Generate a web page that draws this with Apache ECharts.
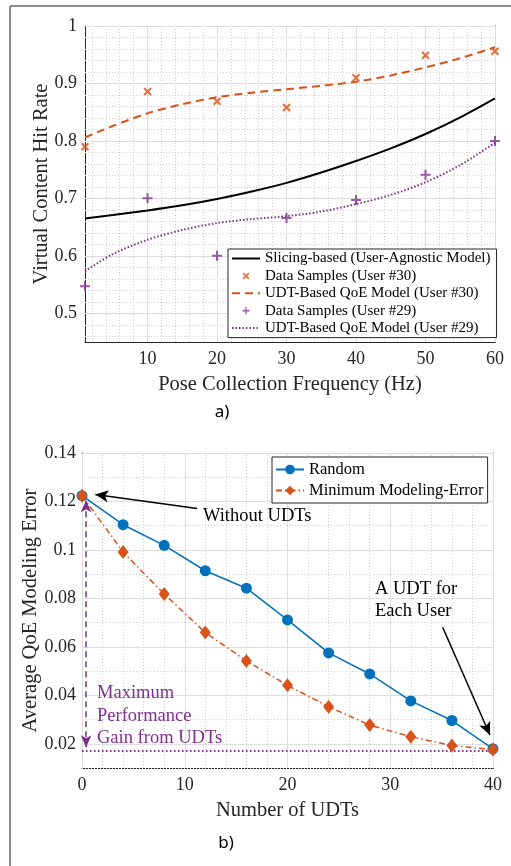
<!DOCTYPE html>
<html>
<head>
<meta charset="utf-8">
<script src="https://cdn.jsdelivr.net/npm/echarts@6/dist/echarts.min.js"></script>
<style>
html, body { margin: 0; padding: 0; background: #fff; }
#chart { width: 511px; height: 866px; }
</style>
</head>
<body>
<div id="chart"></div>
<script>
// a) hit rate vs pose collection frequency
const freqSamples = [1, 10, 20, 30, 40, 50, 60];
const user30Samples = [0.790, 0.886, 0.869, 0.858, 0.910, 0.949, 0.956];
const user29Samples = [0.547, 0.700, 0.600, 0.666, 0.697, 0.741, 0.800];
const freqCurve = [1, 5, 10, 15, 20, 25, 30, 35, 40, 45, 50, 55, 60];
const slicingCurve = [0.665, 0.671, 0.679, 0.688, 0.699, 0.712, 0.727, 0.745, 0.765, 0.787, 0.812, 0.841, 0.874];
const user30Curve = [0.806, 0.826, 0.848, 0.864, 0.876, 0.884, 0.890, 0.896, 0.903, 0.914, 0.928, 0.944, 0.963];
const user29Curve = [0.573, 0.603, 0.628, 0.645, 0.657, 0.664, 0.669, 0.677, 0.690, 0.706, 0.728, 0.758, 0.797];
const freqTicks = [10, 20, 30, 40, 50, 60];
const hitTicks = [0.5, 0.6, 0.7, 0.8, 0.9, 1];

// b) modeling error vs number of UDTs
const udtCounts = [0, 4, 8, 12, 16, 20, 24, 28, 32, 36, 40];
const randomErr = [0.1224, 0.1104, 0.1019, 0.0914, 0.0842, 0.0711, 0.0575, 0.0488, 0.0377, 0.0296, 0.0179];
const minErr = [0.1224, 0.0991, 0.0818, 0.0659, 0.0542, 0.0441, 0.0353, 0.0277, 0.0229, 0.0193, 0.0176];
const udtTicks = [0, 10, 20, 30, 40];
const errTicks = [0.02, 0.04, 0.06, 0.08, 0.1, 0.12, 0.14];
const bestErr = 0.0172;

const SERIF = '"Liberation Serif", "Times New Roman", serif';
const AX = '#262626';
const BLUE = '#0072BD', ORANGE = '#D95319', PURPLE = '#7E2F8E';

const pairs = (xs, ys) => xs.map((x, i) => [x, ys[i]]);

// minor grid positions between the major ones
function steps(from, to, step, major) {
    const out = [];
    for (let v = from; v <= to + 1e-9; v += step) {
        const r = Math.round(v * 10000) / 10000;
        if (!major.some(m => Math.abs(m - r) < 1e-9)) out.push(r);
    }
    return out;
}

function gridLines(xMajor, xMinor, yMajor, yMinor) {
    const major = { color: '#dedede', width: 1, type: 'solid' };
    const minor = { color: '#cfcfcf', width: 1, type: [1, 2] };
    return [].concat(
        xMinor.map(v => ({ xAxis: v, lineStyle: minor })),
        yMinor.map(v => ({ yAxis: v, lineStyle: minor })),
        xMajor.map(v => ({ xAxis: v, lineStyle: major })),
        yMajor.map(v => ({ yAxis: v, lineStyle: major }))
    );
}

const xPlus = 'path://M0,1.8L1.8,0L5,3.2L8.2,0L10,1.8L6.8,5L10,8.2L8.2,10L5,6.8L1.8,10L0,8.2L3.2,5Z';
const plus = 'path://M4,0H6V4H10V6H6V10H4V6H0V4H4Z';

const tickFont = { fontFamily: SERIF, fontSize: 18, color: AX };
const nameFont = { fontFamily: SERIF, fontSize: 20.5, color: AX };
const axLine = { show: true, onZero: false, lineStyle: { color: AX, width: 1 } };

function mainX(grid, min, max, ticks, name) {
    return {
        gridIndex: grid, type: 'value', min: min, max: max,
        name: name, nameLocation: 'middle', nameGap: 32, nameTextStyle: nameFont, nameMoveOverlap: false,
        axisLine: axLine,
        axisTick: { show: true, inside: true, length: 5, customValues: ticks, lineStyle: { color: AX } },
        axisLabel: { customValues: ticks, margin: 8, ...tickFont },
        splitLine: { show: false }
    };
}
function sideX(grid, min, max, ticks) {
    return {
        gridIndex: grid, type: 'value', min: min, max: max, position: 'top',
        axisLine: axLine,
        axisTick: { show: true, inside: true, length: 5, customValues: ticks, lineStyle: { color: AX } },
        axisLabel: { show: false }, splitLine: { show: false }
    };
}
function mainY(grid, min, max, ticks, name, gap, margin) {
    return {
        gridIndex: grid, type: 'value', min: min, max: max,
        name: name, nameLocation: 'middle', nameGap: gap, nameTextStyle: nameFont, nameMoveOverlap: false,
        axisLine: axLine,
        axisTick: { show: true, inside: true, length: 5, customValues: ticks, lineStyle: { color: AX } },
        axisLabel: { customValues: ticks, margin: margin, ...tickFont },
        splitLine: { show: false }
    };
}
function sideY(grid, min, max, ticks) {
    return {
        gridIndex: grid, type: 'value', min: min, max: max, position: 'right',
        axisLine: axLine,
        axisTick: { show: true, inside: true, length: 5, customValues: ticks, lineStyle: { color: AX } },
        axisLabel: { show: false }, splitLine: { show: false }
    };
}

const noDot = { opacity: 0 };

const chart = echarts.init(document.getElementById('chart'));

const option = {
    backgroundColor: '#fff',
    animation: false,
    grid: [
        { left: 85, right: 16, top: 26, height: 316 },
        { left: 82, right: 18, top: 453, height: 315 }
    ],
    xAxis: [
        mainX(0, 1, 60, freqTicks, 'Pose Collection Frequency (Hz)'),
        sideX(0, 1, 60, freqTicks),
        mainX(1, 0, 40, udtTicks, 'Number of UDTs'),
        sideX(1, 0, 40, udtTicks)
    ],
    yAxis: [
        mainY(0, 0.45, 1, hitTicks, 'Virtual Content Hit Rate', 33, 8),
        sideY(0, 0.45, 1, hitTicks),
        mainY(1, 0.01, 0.14, errTicks, 'Average QoE Modeling Error', 41, 6),
        sideY(1, 0.01, 0.14, errTicks)
    ],
    legend: [
        {
            left: 228, top: 249, orient: 'vertical',
            backgroundColor: '#fff', borderColor: AX, borderWidth: 1,
            padding: [2, 6, 2, 3], itemWidth: 28, itemHeight: 7, itemGap: 2.4,
            textStyle: { fontFamily: SERIF, fontSize: 15, color: '#000' },
            data: [
                { name: 'Slicing-based (User-Agnostic Model)', itemStyle: noDot },
                'Data Samples (User #30)',
                { name: 'UDT-Based QoE Model (User #30)', itemStyle: noDot },
                'Data Samples (User #29)',
                { name: 'UDT-Based QoE Model (User #29)', itemStyle: noDot }
            ]
        },
        {
            left: 272, top: 457, orient: 'vertical',
            backgroundColor: '#fff', borderColor: AX, borderWidth: 1,
            padding: [4, 4, 4, 3], itemWidth: 28, itemHeight: 12, itemGap: 4,
            textStyle: { fontFamily: SERIF, fontSize: 16.5, color: '#000' },
            data: ['Random', 'Minimum Modeling-Error']
        }
    ],
    graphic: [
        { type: 'line', shape: { x1: 10, y1: 6, x2: 511, y2: 6 }, style: { stroke: '#8c8c8c', lineWidth: 2 } },
        { type: 'line', shape: { x1: 10, y1: 6, x2: 10, y2: 866 }, style: { stroke: '#8c8c8c', lineWidth: 2 } },
        { type: 'text', x: 222, y: 412, style: { text: 'a)', font: '17px "Noto Sans"', fill: '#000', align: 'center', verticalAlign: 'middle' } },
        { type: 'text', x: 226, y: 843, style: { text: 'b)', font: '17px "Noto Sans"', fill: '#000', align: 'center', verticalAlign: 'middle' } },
        { type: 'text', x: 203, y: 516, z: 10, style: { text: 'Without UDTs', font: '18.5px ' + SERIF, fill: '#000', verticalAlign: 'middle' } },
        { type: 'text', x: 375, y: 589, z: 10, style: { text: 'A UDT for', font: '18.5px ' + SERIF, fill: '#000', verticalAlign: 'middle' } },
        { type: 'text', x: 375, y: 611, z: 10, style: { text: 'Each User', font: '18.5px ' + SERIF, fill: '#000', verticalAlign: 'middle' } },
        { type: 'text', x: 97, y: 693, z: 10, style: { text: 'Maximum', font: '18.5px ' + SERIF, fill: PURPLE, verticalAlign: 'middle' } },
        { type: 'text', x: 97, y: 716, z: 10, style: { text: 'Performance', font: '18.5px ' + SERIF, fill: PURPLE, verticalAlign: 'middle' } },
        { type: 'text', x: 97, y: 738, z: 10, style: { text: 'Gain from UDTs', font: '18.5px ' + SERIF, fill: PURPLE, verticalAlign: 'middle' } }
    ],
    series: [
        // grid of plot a)
        {
            type: 'line', xAxisIndex: 0, yAxisIndex: 0, data: [], silent: true,
            markLine: {
                z: 1, silent: true, symbol: 'none', label: { show: false }, animation: false,
                data: gridLines(freqTicks, steps(2, 58, 2, freqTicks), hitTicks, steps(0.46, 0.98, 0.02, hitTicks))
            }
        },
        {
            name: 'Slicing-based (User-Agnostic Model)', type: 'line', xAxisIndex: 0, yAxisIndex: 0,
            data: pairs(freqCurve, slicingCurve), smooth: 0.3, symbol: 'none',
            lineStyle: { color: '#000', width: 2 }, itemStyle: { color: '#000' }
        },
        {
            name: 'Data Samples (User #30)', type: 'scatter', xAxisIndex: 0, yAxisIndex: 0,
            data: pairs(freqSamples, user30Samples), symbol: xPlus, symbolSize: 8.5,
            itemStyle: { color: ORANGE }
        },
        {
            name: 'UDT-Based QoE Model (User #30)', type: 'line', xAxisIndex: 0, yAxisIndex: 0,
            data: pairs(freqCurve, user30Curve), smooth: 0.3, symbol: 'none',
            lineStyle: { color: ORANGE, width: 2, type: [8, 5] }, itemStyle: { color: ORANGE }
        },
        {
            name: 'Data Samples (User #29)', type: 'scatter', xAxisIndex: 0, yAxisIndex: 0,
            data: pairs(freqSamples, user29Samples), symbol: plus, symbolSize: 10,
            itemStyle: { color: PURPLE }
        },
        {
            name: 'UDT-Based QoE Model (User #29)', type: 'line', xAxisIndex: 0, yAxisIndex: 0,
            data: pairs(freqCurve, user29Curve), smooth: 0.3, symbol: 'none',
            lineStyle: { color: PURPLE, width: 2, type: [1.5, 2] }, itemStyle: { color: PURPLE }
        },
        // grid of plot b) and the best-error level
        {
            type: 'line', xAxisIndex: 2, yAxisIndex: 2, data: [], silent: true,
            markLine: {
                z: 1, silent: true, symbol: 'none', label: { show: false }, animation: false,
                data: gridLines(udtTicks, steps(2, 38, 2, udtTicks), errTicks, steps(0.012, 0.136, 0.004, errTicks))
                    .concat([[{ coord: [0, bestErr], lineStyle: { color: PURPLE, width: 2, type: [1.5, 2.5] } }, { coord: [40, bestErr] }]])
            }
        },
        {
            name: 'Random', type: 'line', xAxisIndex: 2, yAxisIndex: 2,
            data: pairs(udtCounts, randomErr), symbol: 'circle', symbolSize: 11,
            lineStyle: { color: BLUE, width: 1.5 }, itemStyle: { color: BLUE }
        },
        {
            name: 'Minimum Modeling-Error', type: 'line', xAxisIndex: 2, yAxisIndex: 2,
            data: pairs(udtCounts, minErr), symbol: 'diamond', symbolSize: [11, 14],
            lineStyle: { color: ORANGE, width: 1.5, type: [6, 3, 1.5, 3] }, itemStyle: { color: ORANGE }
        },
        // annotation arrows
        {
            type: 'line', xAxisIndex: 2, yAxisIndex: 2, data: [], silent: true,
            markLine: {
                z: 5, silent: true, symbol: ['none', 'arrow'], symbolSize: [9, 13], label: { show: false }, animation: false,
                lineStyle: { color: '#000', width: 1.5, type: 'solid' },
                data: [
                    [{ coord: [11.2, 0.1171] }, { coord: [1.3, 0.1229] }],
                    [{ coord: [35.1, 0.0681] }, { coord: [39.7, 0.0236] }]
                ]
            }
        },
        {
            type: 'line', xAxisIndex: 2, yAxisIndex: 2, data: [], silent: true,
            markLine: {
                z: 5, silent: true, symbol: ['arrow', 'arrow'], symbolSize: [8, 12], label: { show: false }, animation: false,
                lineStyle: { color: PURPLE, width: 1.5, type: [6, 4] },
                data: [
                    [{ coord: [0.4, 0.0186] }, { coord: [0.4, 0.1205] }]
                ]
            }
        }
    ]
};

chart.setOption(option);
</script>
</body>
</html>
